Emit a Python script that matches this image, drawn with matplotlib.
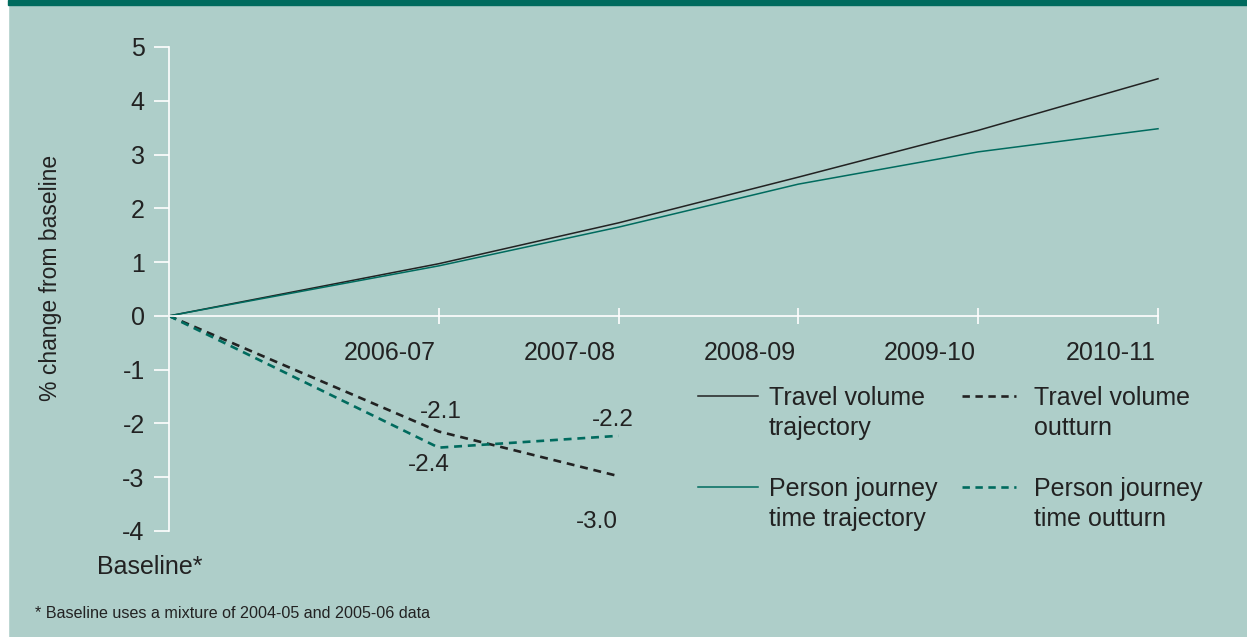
import matplotlib.pyplot as plt
from matplotlib.lines import Line2D

plt.rcParams['font.family'] = ['Liberation Sans', 'DejaVu Sans']
plt.rcParams['axes.unicode_minus'] = False

# Datos
categorias = ["Baseline*", "2006-07", "2007-08", "2008-09", "2009-10", "2010-11"]
x_pos = [0, 1.5, 2.5, 3.5, 4.5, 5.5]
vol_trayectoria = [0, 0.97, 1.73, 2.58, 3.45, 4.41]
tiempo_trayectoria = [0, 0.93, 1.65, 2.45, 3.05, 3.48]
vol_resultado = [0, -2.15, -2.98]
tiempo_resultado = [0, -2.45, -2.23]
etiq_vol = ["-2.1", "-3.0"]
etiq_tiempo = ["-2.4", "-2.2"]

fondo = "#aecec9"
verde = "#006b5e"
negro = "#222222"
W, H = 1247, 637

fig = plt.figure(figsize=(12.47, 6.37), dpi=100, facecolor=fondo)
# franja superior y borde blanco
fig.add_artist(plt.Rectangle((0, 0), 8 / W, 1, transform=fig.transFigure, color="white", zorder=0))
fig.add_artist(plt.Rectangle((8 / W, 1 - 5 / H), 1, 5 / H, transform=fig.transFigure, color=verde, zorder=0))

ax = fig.add_axes([169 / W, (H - 531) / H, (1158 - 169) / W, (531 - 47) / H])
ax.set_facecolor("none")
ax.set_xlim(0, 5.5)
ax.set_ylim(-4, 5)

ax.plot(x_pos, vol_trayectoria, color=negro, lw=1.1, clip_on=False)
ax.plot(x_pos, tiempo_trayectoria, color=verde, lw=1.1, clip_on=False)
ax.plot(x_pos[:3], vol_resultado, color=negro, lw=1.9, ls=(0, (3, 2.2)), clip_on=False)
ax.plot(x_pos[:3], tiempo_resultado, color=verde, lw=1.9, ls=(0, (3, 2.2)), clip_on=False)

# etiquetas de valores
fs = 17.5
ax.text(x_pos[1] + 0.01, vol_resultado[1] + 0.37, etiq_vol[0], fontsize=fs, color=negro, ha="center", va="center")
ax.text(x_pos[2] - 0.12, vol_resultado[2] - 0.85, etiq_vol[1], fontsize=fs, color=negro, ha="center", va="center")
ax.text(x_pos[1] - 0.055, tiempo_resultado[1] - 0.32, etiq_tiempo[0], fontsize=fs, color=negro, ha="center", va="center")
ax.text(x_pos[2] - 0.03, tiempo_resultado[2] + 0.3, etiq_tiempo[1], fontsize=fs, color=negro, ha="center", va="center")

# ejes
for s in ["top", "right"]:
    ax.spines[s].set_visible(False)
ax.spines["left"].set_color("white")
ax.spines["bottom"].set_color("white")
ax.spines["bottom"].set_position(("data", 0))
ax.spines["left"].set_linewidth(1.2)
ax.spines["bottom"].set_linewidth(1.2)

ax.set_yticks(range(-4, 6))
ax.tick_params(axis="y", direction="out", length=11, width=1.2, color="white",
               labelsize=18, labelcolor=negro, pad=6.5)
ax.set_xticks(x_pos[1:])
ax.set_xticklabels([])
ax.tick_params(axis="x", direction="inout", length=11, width=1.2, color="white")
for xp, cat in zip(x_pos[1:], categorias[1:]):
    ax.text(xp - 0.015, -0.69, cat, fontsize=18, color=negro, ha="right", va="center")
ax.text(-0.105, -4.67, categorias[0], fontsize=18, color=negro, ha="center", va="center", clip_on=False)

fig.text(51 / W, 1 - 278 / H, "% change from baseline", rotation=90, fontsize=16.5,
         color=negro, ha="center", va="center")

# leyenda manual
items = [
    (698, 396, negro, "-", ["Travel volume", "trajectory"]),
    (962, 396, negro, "--", ["Travel volume", "outturn"]),
    (698, 487, verde, "-", ["Person journey", "time trajectory"]),
    (962, 487, verde, "--", ["Person journey", "time outturn"]),
]
for x0, y0, c, estilo, lineas in items:
    if estilo == "-":
        fig.add_artist(Line2D([x0 / W, (x0 + 60) / W], [1 - y0 / H, 1 - y0 / H], color=c, lw=1.1))
        xt = x0 + 71
    else:
        fig.add_artist(Line2D([x0 / W, (x0 + 54) / W], [1 - y0 / H, 1 - y0 / H], color=c, lw=1.9,
                              ls=(0, (2.8, 2.1))))
        xt = x0 + 72
    for i, linea in enumerate(lineas):
        fig.text(xt / W, 1 - (y0 + 9 + 30 * i) / H, linea, fontsize=18, color=negro,
                 ha="left", va="baseline")

fig.text(35 / W, 1 - 614 / H, "* Baseline uses a mixture of 2004-05 and 2005-06 data",
         fontsize=11.6, color=negro, ha="left", va="center")

fig.savefig("out.png", dpi=100, facecolor=fondo)
